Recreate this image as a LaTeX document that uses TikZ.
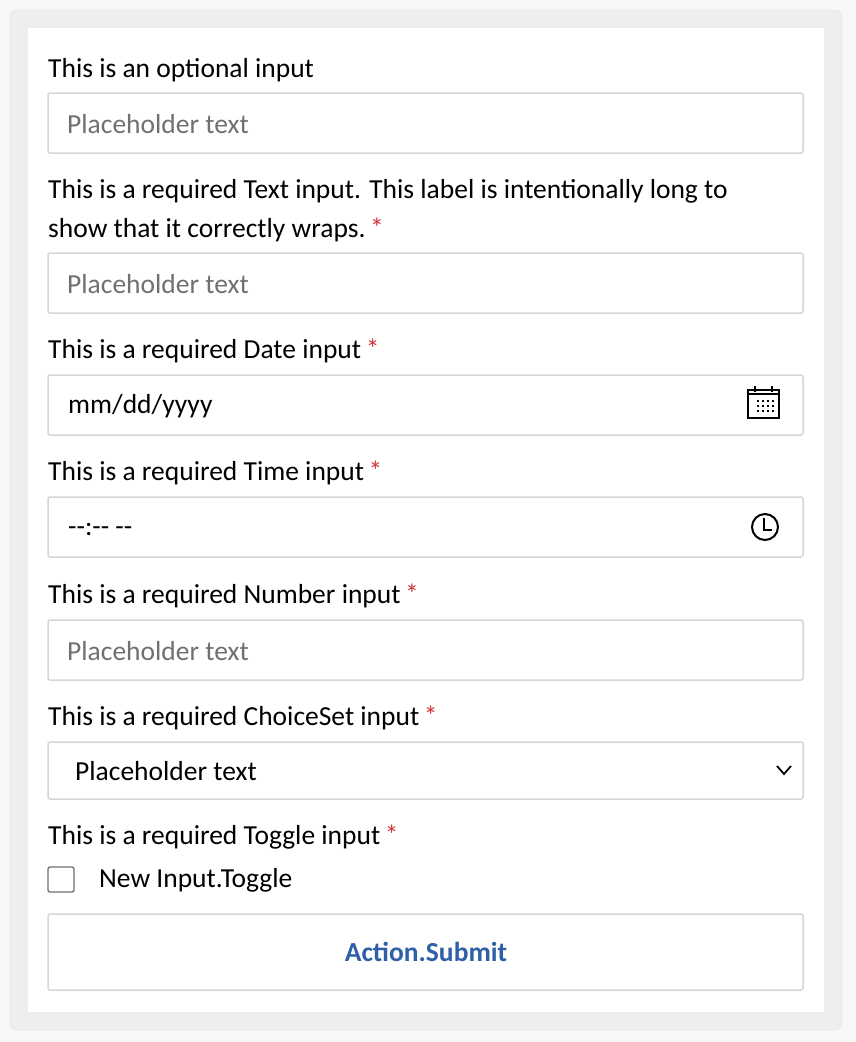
\documentclass[tikz,border=0pt]{standalone}
\usepackage{fontspec}
\setmainfont{Carlito}
\definecolor{bgout}{HTML}{F7F7F7}
\definecolor{frame}{HTML}{EDEEEF}
\definecolor{framebd}{HTML}{DCDCDC}
\definecolor{fieldbd}{HTML}{D6D6D6}
\definecolor{ph}{HTML}{707070}
\definecolor{req}{HTML}{D13438}
\definecolor{btn}{HTML}{2E5FA8}
\newcommand{\reqstar}{\textcolor{req}{\,*}}
\begin{document}
\begin{tikzpicture}[x=1pt,y=-1pt,
  lbl/.style={anchor=west,inner sep=0pt,font=\fontsize{27.5}{39}\selectfont,text=black},
  field/.style={draw=fieldbd,line width=1.5pt,fill=white,rounded corners=2pt},
  phtxt/.style={anchor=west,inner sep=0pt,font=\fontsize{27.5}{30}\selectfont,text=ph},
  valtxt/.style={anchor=west,inner sep=0pt,font=\fontsize{27.5}{30}\selectfont,text=black}]
\fill[bgout] (0,0) rectangle (856,1042);
\useasboundingbox (0,0) rectangle (856,1042);
\draw[fill=frame,draw=framebd,rounded corners=8pt] (10,10) rectangle (842,1030);
\fill[white] (28,28) rectangle (824,1012);
% 1
\node[lbl] (l1) at (48,70) {This is an optional input};
\draw[field] (48,93) rectangle (803,153);
\node[phtxt] (p1) at (67,124) {Placeholder text};
% 2
\node[lbl,align=left,anchor=north west] (l2) at (48,179) {This is a required Text input. This label is intentionally long to\\show that it correctly wraps.\reqstar};
\draw[field] (48,253) rectangle (803,313);
\node[phtxt] (p2) at (67,284) {Placeholder text};
% 3
\node[lbl] (l3) at (48,351) {This is a required Date input\reqstar};
\draw[field] (48,375) rectangle (803,435);
\node[valtxt] (v3) at (68,406) {mm/dd/yyyy};
\begin{scope}[line width=1.2pt]
\draw (748,390) rectangle (779,418);
\draw (748,394) -- (779,394);
\draw (755,386) -- (755,392) (772,386) -- (772,392);
\foreach \i in {0,1,2,3} \foreach \j in {0,1,2}
  \fill (757+\i*5,400+\j*5) rectangle ++(2,2);
\end{scope}
% 4
\node[lbl] (l4) at (48,473) {This is a required Time input\reqstar};
\draw[field] (48,497) rectangle (803,557);
\node[valtxt] (v4) at (68,529) {-{}-:-{}- -{}-};
\draw[line width=2pt] (765,527) circle (13);
\draw[line width=2pt] (764,518) -- (764,530) -- (772,530);
% 5
\node[lbl] (l5) at (48,596) {This is a required Number input\reqstar};
\draw[field] (48,620) rectangle (803,680);
\node[phtxt] (p5) at (67,651) {Placeholder text};
% 6
\node[lbl] (l6) at (48,718) {This is a required ChoiceSet input\reqstar};
\draw[field] (48,742) rectangle (803,799);
\node[valtxt] (v6) at (75,771) {Placeholder text};
\draw[line width=1.8pt] (777,766) -- (784,774) -- (791,766);
% 7
\node[lbl] (l7) at (48,837) {This is a required Toggle input\reqstar};
\draw[draw=ph,line width=1.3pt,rounded corners=2pt,fill=white] (48,867) rectangle (74,892);
\node[valtxt] (v7) at (99,880) {New Input.Toggle};
% button
\draw[field] (48,914) rectangle (803,990);
\node[font=\fontsize{27.5}{30}\selectfont\bfseries,text=btn] (b) at (426,952) {Action.Submit};
\end{tikzpicture}
\end{document}
